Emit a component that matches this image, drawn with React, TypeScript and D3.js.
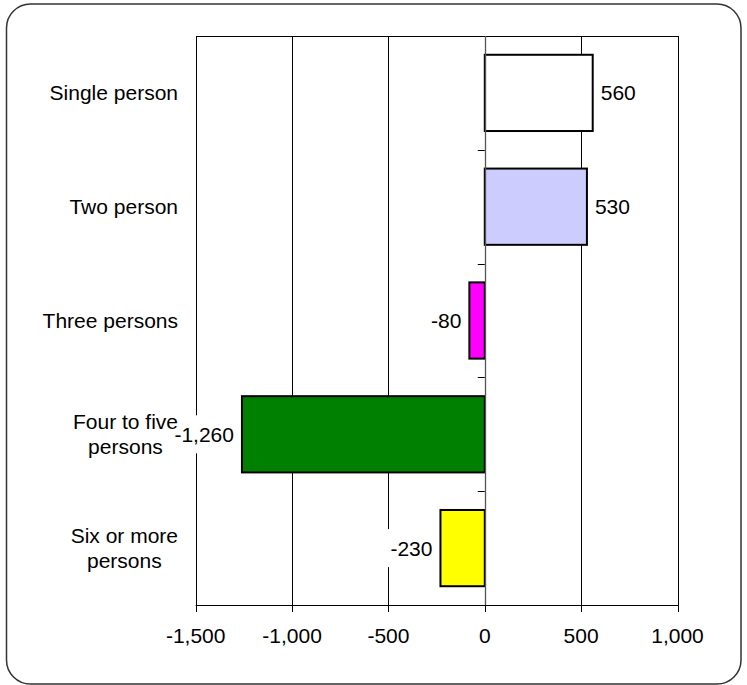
import React from "react";
import * as d3 from "d3";

const categories: string[][] = [
  ["Single person"],
  ["Two person"],
  ["Three persons"],
  ["Four to five", "persons"],
  ["Six or more", "persons"],
];
const values: number[] = [560, 530, -80, -1260, -230];
const colors: string[] = ["#FFFFFF", "#CCCCFF", "#FF00FF", "#008000", "#FFFF00"];
const xTicks: number[] = [-1500, -1000, -500, 0, 500, 1000];

const W = 747;
const H = 685;
const FONT = "'Liberation Sans', Arial, sans-serif";
const FS = 21;

const CW: Record<string, number> = {
  " ": 0.278, "-": 0.333, ",": 0.278, S: 0.667, F: 0.611, T: 0.611,
  i: 0.222, l: 0.222, f: 0.278, t: 0.278, r: 0.333, m: 0.833, w: 0.722,
  s: 0.5, v: 0.5, x: 0.5,
};
function textW(s: string): number {
  let w = 0;
  for (const ch of s) w += CW[ch] ?? 0.556;
  return w * FS;
}
const fmtBase = d3.format(",");
const fmt = (v: number) => fmtBase(v).replace("\u2212", "-");

export default function App() {
  const left = 195.7, right = 677.5, top = 36, bottom = 605;
  const x = d3.scaleLinear().domain([-1500, 1000]).range([left, right]);
  const y = d3.scaleBand<number>().domain(d3.range(values.length)).range([top, bottom]).padding(0);
  const step = y.step();
  const barH = step * 0.67;
  const x0 = x(0);

  const labelInfo = values.map((v, i) => {
    const txt = fmt(v);
    const w = textW(txt);
    const cy = (y(i) as number) + step / 2;
    const end = x(v);
    const tx = v >= 0 ? end + 8 : end - 8;
    return { txt, w, cy, tx, anchor: v >= 0 ? "start" : "end", pos: v >= 0 };
  });

  return (
    <svg width={W} height={H} style={{ position: "absolute", left: 0, top: 0, background: "#fff" }}>
      <rect x={6.5} y={4} width={734.5} height={680} rx={24} ry={24} fill="#fff" stroke="#333" strokeWidth={1.5} />
      {/* gridlines */}
      {xTicks.map((t) => (
        <line key={"g" + t} x1={Math.round(x(t)) + 0.5} x2={Math.round(x(t)) + 0.5} y1={top} y2={bottom} stroke="#000" strokeWidth={1} />
      ))}
      {/* plot top border */}
      <line x1={Math.round(left) + 0.5} x2={Math.round(right) + 0.5} y1={top + 0.5} y2={top + 0.5} stroke="#000" strokeWidth={1} />
      {/* bars */}
      {values.map((v, i) => (
        <rect
          key={"b" + i}
          x={Math.min(x(v), x0)}
          y={(y(i) as number) + (step - barH) / 2}
          width={Math.abs(x(v) - x0)}
          height={barH}
          fill={colors[i]}
          stroke="#000"
          strokeWidth={2}
        />
      ))}
      {/* category axis at zero */}
      <line x1={Math.round(x0) + 0.5} x2={Math.round(x0) + 0.5} y1={top} y2={bottom} stroke="#555" strokeWidth={1.3} />
      {d3.range(values.length + 1).map((i) => {
        const yy = Math.round(top + i * step) + 0.5;
        return <line key={"ct" + i} x1={x0 - 7} x2={x0} y1={yy} y2={yy} stroke="#000" strokeWidth={1} />;
      })}
      {/* x axis */}
      <line x1={left} x2={right + 0.5} y1={bottom + 0.5} y2={bottom + 0.5} stroke="#000" strokeWidth={1} />
      {xTicks.map((t) => (
        <g key={"t" + t}>
          <line x1={Math.round(x(t)) + 0.5} x2={Math.round(x(t)) + 0.5} y1={bottom} y2={bottom + 7} stroke="#000" strokeWidth={1} />
          <text x={x(t)} y={bottom + 38} textAnchor="middle" fontFamily={FONT} fontSize={FS} fill="#000">
            {fmt(t)}
          </text>
        </g>
      ))}
      {/* value labels with white boxes */}
      {labelInfo.map((l, i) => (
        <g key={"v" + i}>
          <rect
            x={l.pos ? l.tx - 3 : l.tx - l.w - 3}
            y={l.cy - 19}
            width={l.w + 6}
            height={38}
            fill="#fff"
          />
          <text x={l.tx} y={l.cy + 7.5} textAnchor={l.anchor} fontFamily={FONT} fontSize={FS} fill="#000">
            {l.txt}
          </text>
        </g>
      ))}
      {/* category labels */}
      {categories.map((lines, i) => {
        const cy = (y(i) as number) + step / 2;
        const lh = 25;
        const cx = 178;
        if (lines.length === 1) {
          return (
            <text key={"c" + i} x={cx} y={cy + 7.5} textAnchor="end" fontFamily={FONT} fontSize={FS} fill="#000">
              {lines[0]}
            </text>
          );
        }
        const widest = d3.max(lines, (s) => textW(s)) as number;
        const mid = cx - widest / 2;
        return (
          <text key={"c" + i} textAnchor="middle" fontFamily={FONT} fontSize={FS} fill="#000">
            {lines.map((ln, j) => (
              <tspan key={j} x={mid} y={cy + 7.5 + (j - (lines.length - 1) / 2) * lh}>
                {ln}
              </tspan>
            ))}
          </text>
        );
      })}
    </svg>
  );
}
